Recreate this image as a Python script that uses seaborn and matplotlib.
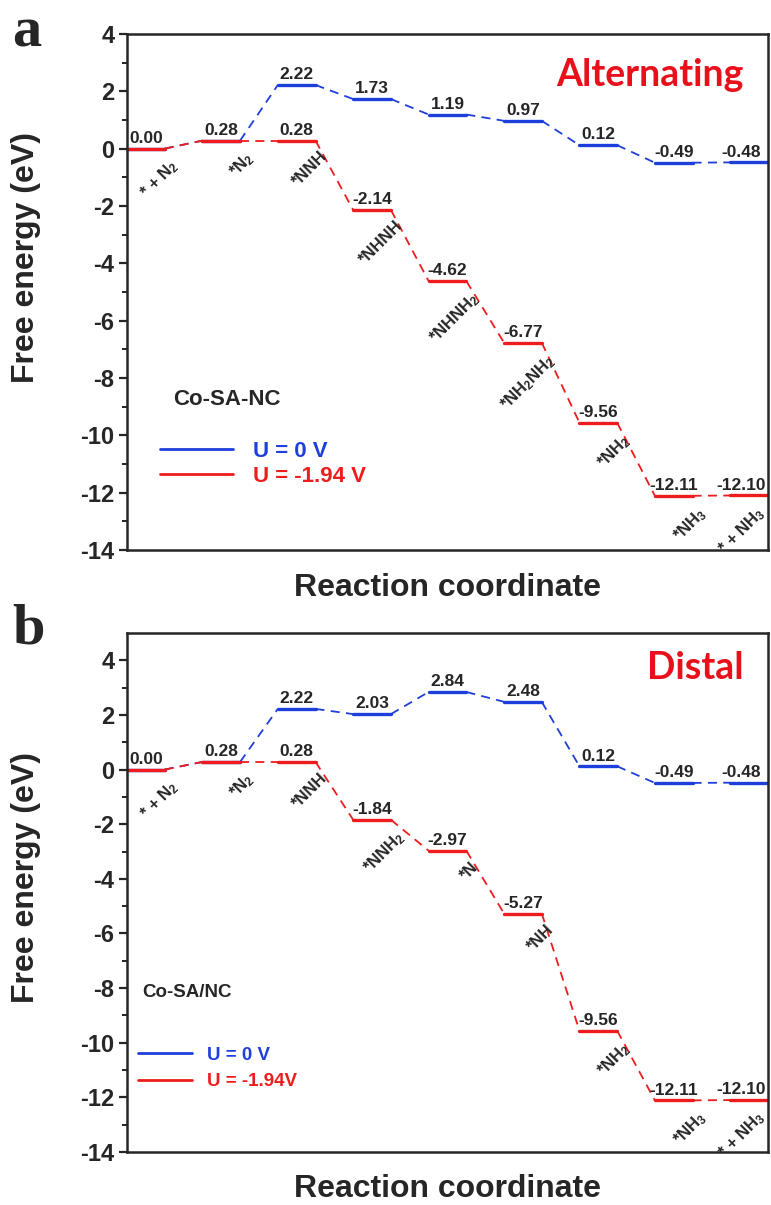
import numpy as np
import pandas as pd
import matplotlib.pyplot as plt
import seaborn as sns
from matplotlib.lines import Line2D

# ---- data ----
states_a = ['* + N$_2$', '*N$_2$', '*NNH', '*NHNH', '*NHNH$_2$',
            '*NH$_2$NH$_2$', '*NH$_2$', '*NH$_3$', '* + NH$_3$']
e0_a = [0.00, 0.28, 2.22, 1.73, 1.19, 0.97, 0.12, -0.49, -0.48]
eu_a = [0.00, 0.28, 0.28, -2.14, -4.62, -6.77, -9.56, -12.11, -12.10]

states_b = ['* + N$_2$', '*N$_2$', '*NNH', '*NNH$_2$', '*N',
            '*NH', '*NH$_2$', '*NH$_3$', '* + NH$_3$']
e0_b = [0.00, 0.28, 2.22, 2.03, 2.84, 2.48, 0.12, -0.49, -0.48]
eu_b = [0.00, 0.28, 0.28, -1.84, -2.97, -5.27, -9.56, -12.11, -12.10]

yticks = [4, 2, 0, -2, -4, -6, -8, -10, -12, -14]

BLUE = '#1f3fdc'
RED = '#ee1c1c'
W = 0.5  # width of each level

sns.set_style('ticks')
plt.rcParams['font.family'] = ['Liberation Sans', 'DejaVu Sans']
plt.rcParams['font.weight'] = 'bold'
plt.rcParams['axes.labelweight'] = 'bold'
plt.rcParams['axes.unicode_minus'] = False
plt.rcParams['mathtext.fontset'] = 'custom'
plt.rcParams['mathtext.rm'] = 'Liberation Sans:bold'
plt.rcParams['mathtext.it'] = 'Liberation Sans:bold'
plt.rcParams['mathtext.bf'] = 'Liberation Sans:bold'
plt.rcParams['mathtext.default'] = 'rm'


def build(e0, eu, lab0, labu):
    rows = []
    for name, e in [(lab0, e0), (labu, eu)]:
        for i, v in enumerate(e):
            rows.append(dict(U=name, seg=f'L{i}', kind='level', x=i, E=v))
            rows.append(dict(U=name, seg=f'L{i}', kind='level', x=i + W, E=v))
            if i < len(e) - 1:
                rows.append(dict(U=name, seg=f'C{i}', kind='link', x=i + W, E=v))
                rows.append(dict(U=name, seg=f'C{i}', kind='link', x=i + 1, E=e[i + 1]))
    return pd.DataFrame(rows)


def panel(ax, e0, eu, states, ylim, lab0, labu):
    df = build(e0, eu, lab0, labu)
    sns.lineplot(data=df, x='x', y='E', hue='U', hue_order=[lab0, labu],
                 palette=[BLUE, RED], units='seg', estimator=None, sort=False,
                 size='kind', sizes={'level': 2.4, 'link': 1.3},
                 style='kind', dashes={'level': '', 'link': (5, 3.5)},
                 legend=False, ax=ax)
    n = len(e0)
    for i, (a, b) in enumerate(zip(e0, eu)):
        last = i == n - 1
        vx = -6 if last else 0
        ax.annotate(f'{a:.2f}', (i + W / 2, a), xytext=(vx, 2), textcoords='offset points',
                    ha='center', va='bottom', fontsize=12.5, fontweight='bold')
        if b != a:
            ax.annotate(f'{b:.2f}', (i + W / 2, b), xytext=(vx, 2), textcoords='offset points',
                        ha='center', va='bottom', fontsize=12.5, fontweight='bold')
        dx = -9 if last else 3
        ax.annotate(states[i], (i + W, b), xytext=(dx, -6), textcoords='offset points',
                    rotation=45, rotation_mode='anchor', ha='right', va='top',
                    fontsize=12, fontweight='bold')
    ax.set_xlim(0, n - 1 + W)
    ax.set_ylim(*ylim)
    ax.set_yticks(yticks)
    ax.set_yticks(np.arange(-13, ylim[1], 2), minor=True)
    ax.set_xticks([])
    ax.tick_params(axis='y', which='major', length=6, width=1.6, labelsize=17, pad=3)
    ax.tick_params(axis='y', which='minor', length=3.5, width=1.4)
    for s in ax.spines.values():
        s.set_linewidth(1.8)
        s.set_visible(True)
    ax.set_ylabel('Free energy (eV)', fontsize=23)
    ax.set_xlabel('Reaction coordinate', fontsize=23)


fig = plt.figure(figsize=(7.71, 12.05), dpi=100)
ax1 = fig.add_axes([0.1647, 0.5436, 0.8314, 0.4282])
ax2 = fig.add_axes([0.1647, 0.0440, 0.8314, 0.4307])

panel(ax1, e0_a, eu_a, states_a, (-14, 4), 'U = 0 V', 'U = -1.94 V')
panel(ax2, e0_b, eu_b, states_b, (-14, 5), 'U = 0 V', 'U = -1.94V')

ax1.yaxis.set_label_coords(-0.134, 0.566)
ax2.yaxis.set_label_coords(-0.134, 0.528)
ax1.xaxis.set_label_coords(0.5, -0.045)
ax2.xaxis.set_label_coords(0.5, -0.042)

ax1.text(0.816, 0.92, 'Alternating', transform=ax1.transAxes, color='#e8101a',
         fontsize=27, fontweight='bold', family='Lato', ha='center', va='center')
ax2.text(0.886, 0.933, 'Distal', transform=ax2.transAxes, color='#e8101a',
         fontsize=27, fontweight='bold', family='Lato', ha='center', va='center')

ax1.text(0.156, 0.291, 'Co-SA-NC', transform=ax1.transAxes, fontsize=16,
         fontweight='bold', ha='center', va='center')
ax2.text(0.094, 0.308, 'Co-SA/NC', transform=ax2.transAxes, fontsize=13.5,
         fontweight='bold', ha='center', va='center')

h = [Line2D([], [], color=BLUE, lw=2), Line2D([], [], color=RED, lw=2)]
ax1.legend(h, ['U = 0 V', 'U = -1.94 V'], loc='upper left', bbox_to_anchor=(0.0515, 0.212),
           frameon=False, prop={'weight': 'bold', 'size': 16}, labelcolor=[BLUE, RED],
           handlelength=3.3, handletextpad=0.9, labelspacing=0.2, borderpad=0, borderaxespad=0)
ax2.legend(h, ['U = 0 V', 'U = -1.94V'], loc='upper left', bbox_to_anchor=(0.017, 0.203),
           frameon=False, prop={'weight': 'bold', 'size': 13.5}, labelcolor=[BLUE, RED],
           handlelength=2.9, handletextpad=0.8, labelspacing=0.5, borderpad=0, borderaxespad=0)

fig.text(0.035, 0.961, 'a', family='Liberation Serif', fontweight='bold', fontsize=42,
         ha='center', va='baseline')
fig.text(0.037, 0.466, 'b', family='Liberation Serif', fontweight='bold', fontsize=42,
         ha='center', va='baseline')

fig.savefig('out.png', dpi=100, facecolor='white')
